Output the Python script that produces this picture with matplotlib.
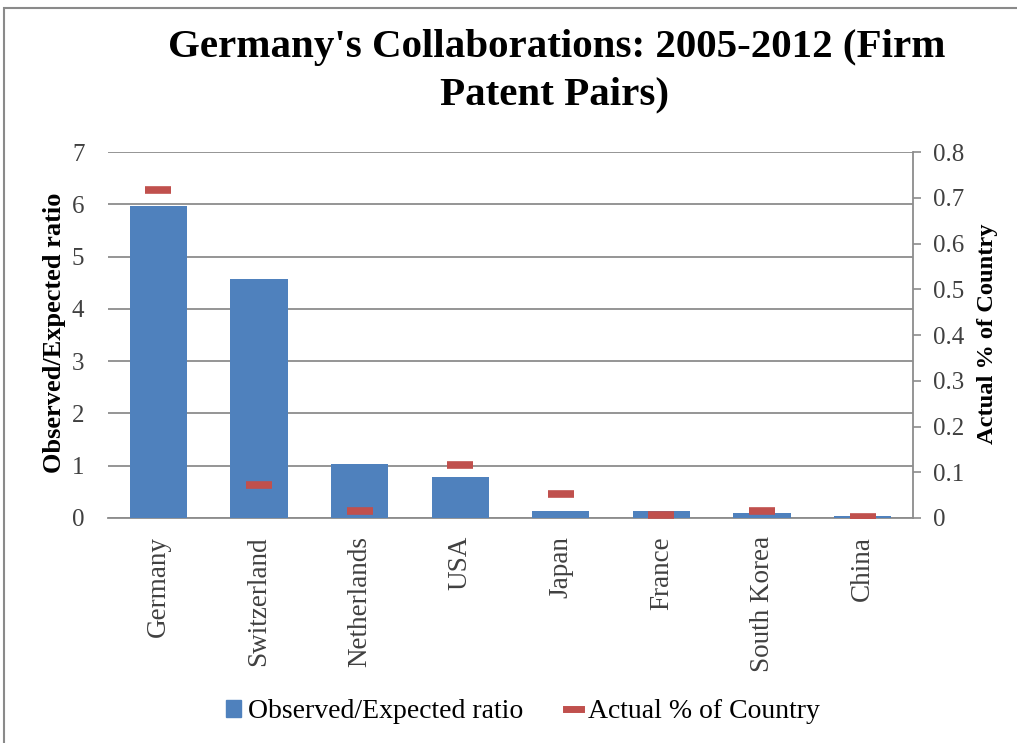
import matplotlib
matplotlib.use("Agg")
import matplotlib.pyplot as plt
from matplotlib.patches import Rectangle, Patch
from matplotlib.lines import Line2D
from matplotlib.ticker import FuncFormatter

countries = ["Germany", "Switzerland", "Netherlands", "USA", "Japan",
             "France", "South Korea", "China"]
obs_exp_ratio = [5.97, 4.58, 1.03, 0.78, 0.13, 0.13, 0.10, 0.04]
actual_pct = [0.717, 0.073, 0.015, 0.115, 0.053, 0.007, 0.015, 0.003]

BLUE = "#4F81BD"
RED = "#C0504D"
GRID = "#8C8C8C"
TXT = "#404040"
SERIF = ["Liberation Serif", "DejaVu Serif"]

W, H = 1017, 743
fig = plt.figure(figsize=(W / 100, H / 100), dpi=100)
plt.rcParams["font.family"] = SERIF

# chart-area border
fig.add_artist(Rectangle((4 / W, -0.1), 1.2, 1 - 8 / H + 0.1,
                         transform=fig.transFigure, fill=False,
                         edgecolor="#8A8A8A", lw=1.5))

ax = fig.add_axes([108 / W, 1 - 518 / H, (913 - 108) / W, (518 - 152) / H])
ax2 = ax.twinx()

x = list(range(len(countries)))
ax.bar(x, obs_exp_ratio, width=0.57, color=BLUE, zorder=3)
ax.set_ylim(0, 7)
ax.set_xlim(-0.5, len(countries) - 0.5)
ax.set_yticks(range(0, 8))
ax.yaxis.grid(True, color=GRID, lw=1.3, zorder=0)
ax.set_axisbelow(True)
ax.tick_params(axis="y", length=0, pad=17, labelsize=18, labelcolor=TXT)
ax.set_xticks(x)
ax.set_xticklabels(countries, rotation=90, fontsize=19.5, color=TXT)
ax.tick_params(axis="x", length=0, pad=13)
for s in ["top", "left", "right"]:
    ax.spines[s].set_visible(False)
ax.spines["bottom"].set_color(GRID)
ax.spines["bottom"].set_linewidth(1.3)

ax2.plot(x, actual_pct, linestyle="none", marker="_", ms=19, mew=5.5,
         color=RED, zorder=4)
ax2.set_ylim(0, 0.8)
ax2.set_yticks([i / 10 for i in range(9)])
ax2.yaxis.set_major_formatter(FuncFormatter(lambda v, p: "0" if v == 0 else f"{v:.1f}"))
ax2.tick_params(axis="y", length=5.5, width=1.2, color=GRID, pad=9,
                labelsize=18, labelcolor=TXT)
for s in ["top", "left", "bottom"]:
    ax2.spines[s].set_visible(False)
ax2.spines["right"].set_color(GRID)
ax2.spines["right"].set_linewidth(1.3)

fig.text(557 / W, 1 - 47 / H, "Germany's Collaborations: 2005-2012 (Firm",
         ha="center", va="center", fontsize=29.5, fontweight="bold",
         color="black")
fig.text(555 / W, 1 - 95 / H, "Patent Pairs)",
         ha="center", va="center", fontsize=29.5, fontweight="bold",
         color="black")

fig.text(54 / W, 1 - 333 / H, "Observed/Expected ratio", rotation=90,
         ha="center", va="center", fontsize=19, fontweight="bold")
fig.text(987 / W, 1 - 334 / H, "Actual % of Country", rotation=90,
         ha="center", va="center", fontsize=17.6, fontweight="bold")

handles = [Patch(facecolor=BLUE, edgecolor=BLUE),
           Line2D([], [], color=RED, lw=5)]
fig.legend(handles, ["Observed/Expected ratio", "Actual % of Country"],
           loc="center", bbox_to_anchor=(523 / W, 1 - 712 / H), ncol=2,
           frameon=False, fontsize=20, handlelength=0.55, handleheight=0.55,
           handletextpad=0.25, columnspacing=1.55, labelcolor="black")

fig.savefig("out.png", dpi=100)
